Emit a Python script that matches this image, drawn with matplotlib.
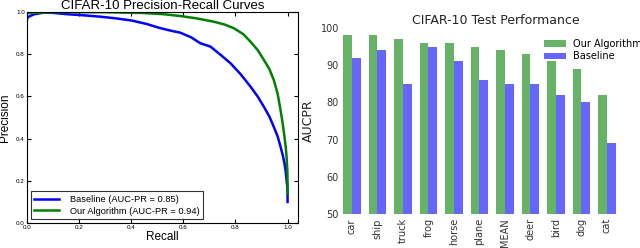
import numpy as np
import matplotlib.pyplot as plt

# precision-recall curves
base_recall = [0.0, 0.003, 0.01, 0.03, 0.06, 0.09, 0.15, 0.22, 0.28, 0.34, 0.4, 0.46, 0.51, 0.55,
               0.588, 0.63, 0.665, 0.704, 0.74, 0.781, 0.82, 0.858, 0.885, 0.909, 0.93, 0.947,
               0.962, 0.973, 0.982, 0.988, 0.993, 0.996, 0.999, 1.0, 1.0]
base_prec = [0.965, 0.975, 0.98, 0.99, 0.996, 0.997, 0.99, 0.984, 0.978, 0.97, 0.96, 0.943, 0.924, 0.912,
             0.902, 0.88, 0.852, 0.836, 0.8, 0.757, 0.705, 0.646, 0.6, 0.551, 0.505, 0.456,
             0.41, 0.362, 0.318, 0.283, 0.245, 0.204, 0.17, 0.14, 0.10]
ours_recall = [0.0, 0.1, 0.3, 0.45, 0.52, 0.588, 0.65, 0.717, 0.76, 0.794, 0.83, 0.858, 0.885,
               0.909, 0.93, 0.947, 0.962, 0.973, 0.982, 0.988, 0.993, 0.996, 0.999, 1.0, 1.0]
ours_prec = [0.995, 0.999, 0.999, 0.995, 0.99, 0.981, 0.97, 0.954, 0.94, 0.923, 0.895, 0.859, 0.82,
             0.773, 0.73, 0.678, 0.612, 0.536, 0.465, 0.409, 0.36, 0.314, 0.25, 0.19, 0.14]

# bar chart
categories = ['car', 'ship', 'truck', 'frog', 'horse', 'plane', 'MEAN', 'deer', 'bird', 'dog', 'cat']
ours_auc = [98, 98, 97, 96, 96, 95, 94, 93, 91, 89, 82]
base_auc = [92, 94, 85, 95, 91, 86, 85, 85, 82, 80, 69]

fig = plt.figure(figsize=(6.4, 2.48), dpi=100)

# --- left: PR curves ---
ax1 = fig.add_axes([27/640, 25/248, 271/640, 211/248])
sans = ['Liberation Sans', 'DejaVu Sans']
ax1.plot(base_recall, base_prec, color='b', lw=1.8, label='Baseline (AUC-PR = 0.85)')
ax1.plot(ours_recall, ours_prec, color='g', lw=1.8, label='Our Algorithm (AUC-PR = 0.94)')
ax1.set_xlim(0, 1.04)
ax1.set_ylim(0, 1.0)
ax1.set_xticks(np.arange(0, 1.01, 0.2))
ax1.set_yticks(np.arange(0, 1.01, 0.2))
ax1.tick_params(direction='in', top=True, right=True, labelsize=4.5, length=3, pad=1.5)
for lab in ax1.get_xticklabels() + ax1.get_yticklabels():
    lab.set_family(sans)
ax1.set_xlabel('Recall', fontsize=8.5, family=sans, labelpad=1)
ax1.set_ylabel('Precision', fontsize=8.5, family=sans, labelpad=4)
ax1.set_title('CIFAR-10 Precision-Recall Curves', fontsize=9.5, family=sans, pad=2)
leg = ax1.legend(loc='lower left', fancybox=False, edgecolor='k', prop={'family': sans, 'size': 6.7},
                 handlelength=2.6, borderaxespad=0.4, labelspacing=0.3, handletextpad=1.2)
leg.get_frame().set_linewidth(0.8)

# --- right: bar chart ---
ax2 = fig.add_axes([343/640, 34/248, 306/640, 186/248])
x = np.arange(len(categories))
w = 0.35
ax2.bar(x, ours_auc, width=w, align='edge', color='g', alpha=0.6, edgecolor='none', label='Our Algorithm')
ax2.bar(x + w, base_auc, width=w, align='edge', color='b', alpha=0.6, edgecolor='none', label='Baseline')
ax2.set_xlim(0, 12)
ax2.set_ylim(50, 100)
ax2.set_xticks(x + w)
ax2.set_xticklabels(categories, rotation=90)
for s in ax2.spines.values():
    s.set_visible(False)
ax2.tick_params(length=0, labelsize=7, colors='#333333', pad=3)
ax2.set_ylabel('AUCPR', fontsize=9, color='#222222')
ax2.yaxis.set_label_coords(-0.092, 0.5)
ax2.set_title('CIFAR-10 Test Performance', fontsize=9, color='#222222', pad=3)
ax2.legend(loc='upper right', frameon=False, fontsize=7, handlelength=2.2, labelspacing=0.3,
           borderaxespad=0.3, bbox_to_anchor=(1.0, 0.98))

fig.savefig('out.png', dpi=100)
